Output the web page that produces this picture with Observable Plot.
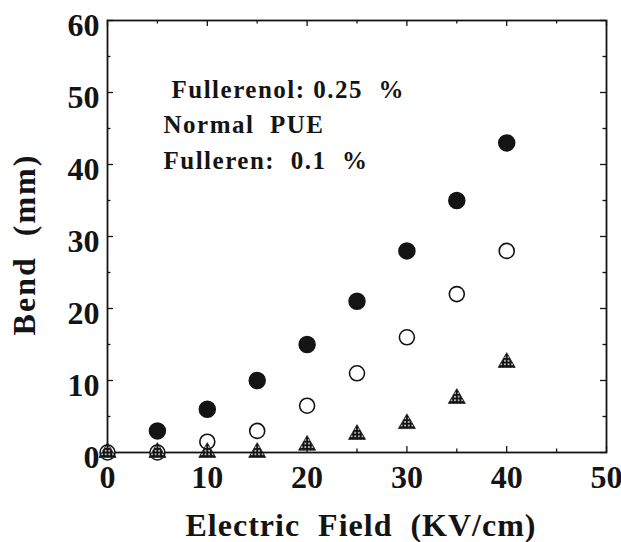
<!DOCTYPE html>
<html><head><meta charset="utf-8">
<script src="https://cdn.jsdelivr.net/npm/d3@7"></script>
<script src="https://cdn.jsdelivr.net/npm/@observablehq/plot@0.6"></script>
<style>
body{margin:0;background:#fff}
svg text{white-space:pre}
</style>
</head><body><div id="chart"></div>
<script>
// Data
const fieldX = [0, 5, 10, 15, 20, 25, 30, 35, 40];
const fullerenolX = [5, 10, 15, 20, 25, 30, 35, 40];
const fullerenolY = [3, 6, 10, 15, 21, 28, 35, 43];
const normalY = [0, 0, 1.5, 3, 6.5, 11, 16, 22, 28];
const fullerenY = [0, 0, 0, 0, 1, 2.5, 4, 7.5, 12.5];
const xTicks = [0, 10, 20, 30, 40, 50];
const xMinor = [5, 15, 25, 35, 45];
const yTicks = [0, 10, 20, 30, 40, 50, 60];
const yMinor = [5, 15, 25, 35, 45, 55];
const legendLabels = ["Fullerenol: 0.25  %", "Normal  PUE", "Fulleren:  0.1  %"];
const xLabel = "Electric  Field  (KV/cm)";
const yLabel = "Bend  (mm)";

const fullerenol = fullerenolX.map((x, i) => ({x, y: fullerenolY[i]}));
const normal = fieldX.map((x, i) => ({x, y: normalY[i]}));
const fulleren = fieldX.map((x, i) => ({x, y: fullerenY[i]}));

const W = 621, H = 542, mL = 107, mR = 15, mT = 20, mB = 90;
const pw = W - mL - mR, ph = H - mT - mB;
const ink = "#141414";
const serif = "Liberation Serif";
const font = {fontFamily: serif, fontWeight: "bold"};

const defs = () => {
  const g = d3.create("svg:defs");
  const p = g.append("pattern").attr("id", "dots").attr("patternUnits", "userSpaceOnUse")
    .attr("width", 3.6).attr("height", 3.6);
  p.append("rect").attr("width", 3.6).attr("height", 3.6).attr("fill", ink);
  p.append("circle").attr("cx", 1.8).attr("cy", 1.8).attr("r", 0.85).attr("fill", "#fff");
  return g.node();
};

const legendStyle = {frameAnchor: "top-left", textAnchor: "start", lineAnchor: "middle", fontSize: 25, fill: ink, ...font};

const chart = Plot.plot({
  width: W, height: H,
  marginLeft: mL, marginRight: mR, marginTop: mT, marginBottom: mB,
  x: {domain: [0, 50]},
  y: {domain: [0, 60]},
  style: {background: "#fff", color: ink, fontFamily: serif, fontWeight: "bold"},
  marks: [
    defs,
    // inward ticks on all four sides
    Plot.tickX(xTicks, {x: d => d, insetTop: ph - 6, stroke: ink, strokeWidth: 1.3}),
    Plot.tickX(xTicks, {x: d => d, insetBottom: ph - 6, stroke: ink, strokeWidth: 1.3}),
    Plot.tickX(xMinor, {x: d => d, insetTop: ph - 3.5, stroke: ink, strokeWidth: 1.3}),
    Plot.tickX(xMinor, {x: d => d, insetBottom: ph - 3.5, stroke: ink, strokeWidth: 1.3}),
    Plot.tickY(yTicks, {y: d => d, insetRight: pw - 6, stroke: ink, strokeWidth: 1.3}),
    Plot.tickY(yTicks, {y: d => d, insetLeft: pw - 6, stroke: ink, strokeWidth: 1.3}),
    Plot.tickY(yMinor, {y: d => d, insetRight: pw - 3.5, stroke: ink, strokeWidth: 1.3}),
    Plot.tickY(yMinor, {y: d => d, insetLeft: pw - 3.5, stroke: ink, strokeWidth: 1.3}),
    Plot.frame({stroke: ink, strokeWidth: 1.8}),
    Plot.axisX({ticks: xTicks, tickSize: 0, tickPadding: 13, label: null, fontSize: 32, ...font}),
    Plot.axisY({ticks: yTicks, tickSize: 0, tickPadding: 8, dy: 5, label: null, fontSize: 32, ...font}),
    // series
    Plot.dot(normal, {x: "x", y: "y", r: 7.5, fill: "#fff", stroke: ink, strokeWidth: 1.6}),
    Plot.dot(fulleren, {x: "x", y: "y", r: 6.3, symbol: "triangle", fill: "url(#dots)", stroke: ink, strokeWidth: 0.8}),
    Plot.dot(fullerenol, {x: "x", y: "y", r: 8, fill: ink, stroke: ink}),
    // in-plot legend text
    Plot.text([legendLabels[0]], {...legendStyle, dx: 64, dy: 69.5}),
    Plot.text([legendLabels[1]], {...legendStyle, dx: 56, dy: 104.5}),
    Plot.text([legendLabels[2]], {...legendStyle, dx: 56, dy: 140.5}),
    // axis titles
    Plot.text([xLabel], {frameAnchor: "bottom", textAnchor: "middle", lineAnchor: "middle", dx: 4, dy: 73, fontSize: 32, fill: ink, ...font}),
    Plot.text([yLabel], {frameAnchor: "left", textAnchor: "middle", lineAnchor: "middle", rotate: -90, dx: -83, dy: 8, fontSize: 32, fill: ink, ...font})
  ]
});

// letter spacing (style only)
const spacing = new Map([[xLabel, 1], [yLabel, 2], ...legendLabels.map(l => [l, 1.5])]);
d3.select(chart).selectAll("text").each(function () {
  const s = spacing.get(this.textContent);
  if (s != null) this.setAttribute("letter-spacing", s);
});
document.getElementById("chart").append(chart);
</script>
</body></html>
